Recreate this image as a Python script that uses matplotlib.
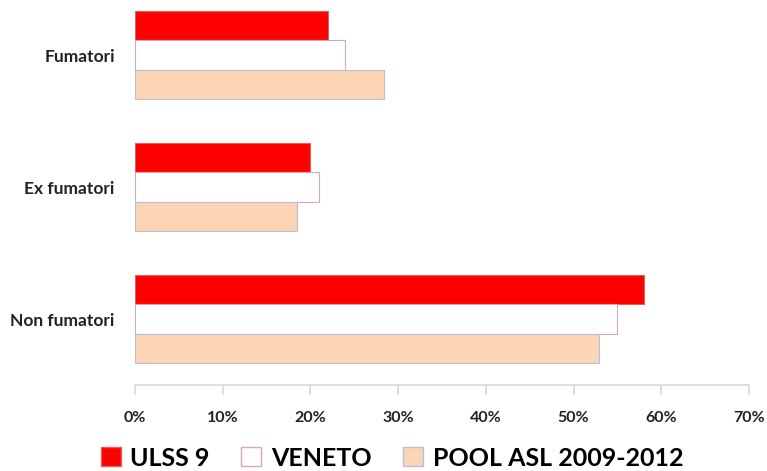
import matplotlib
matplotlib.use("Agg")
import matplotlib.pyplot as plt
from matplotlib.patches import Patch
from matplotlib.ticker import FuncFormatter
import numpy as np

# data (percent)
categories = ["Non fumatori", "Ex fumatori", "Fumatori"]
series_names = ["ULSS 9", "VENETO", "POOL ASL 2009-2012"]
ulss9 = [58.0, 20.0, 22.0]
veneto = [55.0, 21.0, 23.9]
pool = [52.9, 18.5, 28.4]
x_ticks = [0, 10, 20, 30, 40, 50, 60, 70]

plt.rcParams['font.family'] = ['Lato', 'DejaVu Sans']

fig = plt.figure(figsize=(7.67, 4.71), dpi=100)
ax = fig.add_axes([135 / 767, 1 - 385 / 471, (749 - 135) / 767, 385 / 471])

faces = ["#FF0000", "#FFFFFF", "#FBD5B5"]
edges = ["#E06060", "#D8A8B0", "#B8C0D8"]
values = [ulss9, veneto, pool]

y = np.arange(len(categories))
h = 0.222
for i, (vals, fc, ec) in enumerate(zip(values, faces, edges)):
    ax.barh(y + h * (1 - i), vals, height=h, color=fc, edgecolor=ec,
            linewidth=0.8)

ax.set_xlim(0, 70)
ax.set_ylim(-0.5, 2 + 55 / 132)
ax.set_xticks(x_ticks)
ax.xaxis.set_major_formatter(FuncFormatter(lambda v, p: f"{v:.0f}%"))
ax.set_yticks(y)
ax.set_yticklabels(categories)

for s in ['left', 'right', 'top']:
    ax.spines[s].set_visible(False)
ax.spines['bottom'].set_color("#D9D9D9")
ax.spines['bottom'].set_linewidth(1.2)
ax.tick_params(axis='x', colors="#D9D9D9", length=7, width=1.2, pad=12,
               labelcolor="#222222", labelsize=11.5)
ax.tick_params(axis='y', length=0, pad=14.5, labelcolor="#222222", labelsize=12.5)
for lab in ax.get_xticklabels() + ax.get_yticklabels():
    lab.set_fontweight('bold')

handles = [Patch(facecolor=fc, edgecolor=ec, label=n)
           for fc, ec, n in zip(faces, edges, series_names)]
fig.legend(handles=handles, loc='center', bbox_to_anchor=(392 / 767, 1 - 458 / 471),
           ncol=3, frameon=False, prop={'weight': 'bold', 'size': 18},
           handlelength=0.8, handleheight=0.8, handletextpad=0.4,
           columnspacing=1.25)

fig.savefig("out.png", dpi=100, facecolor='white')
